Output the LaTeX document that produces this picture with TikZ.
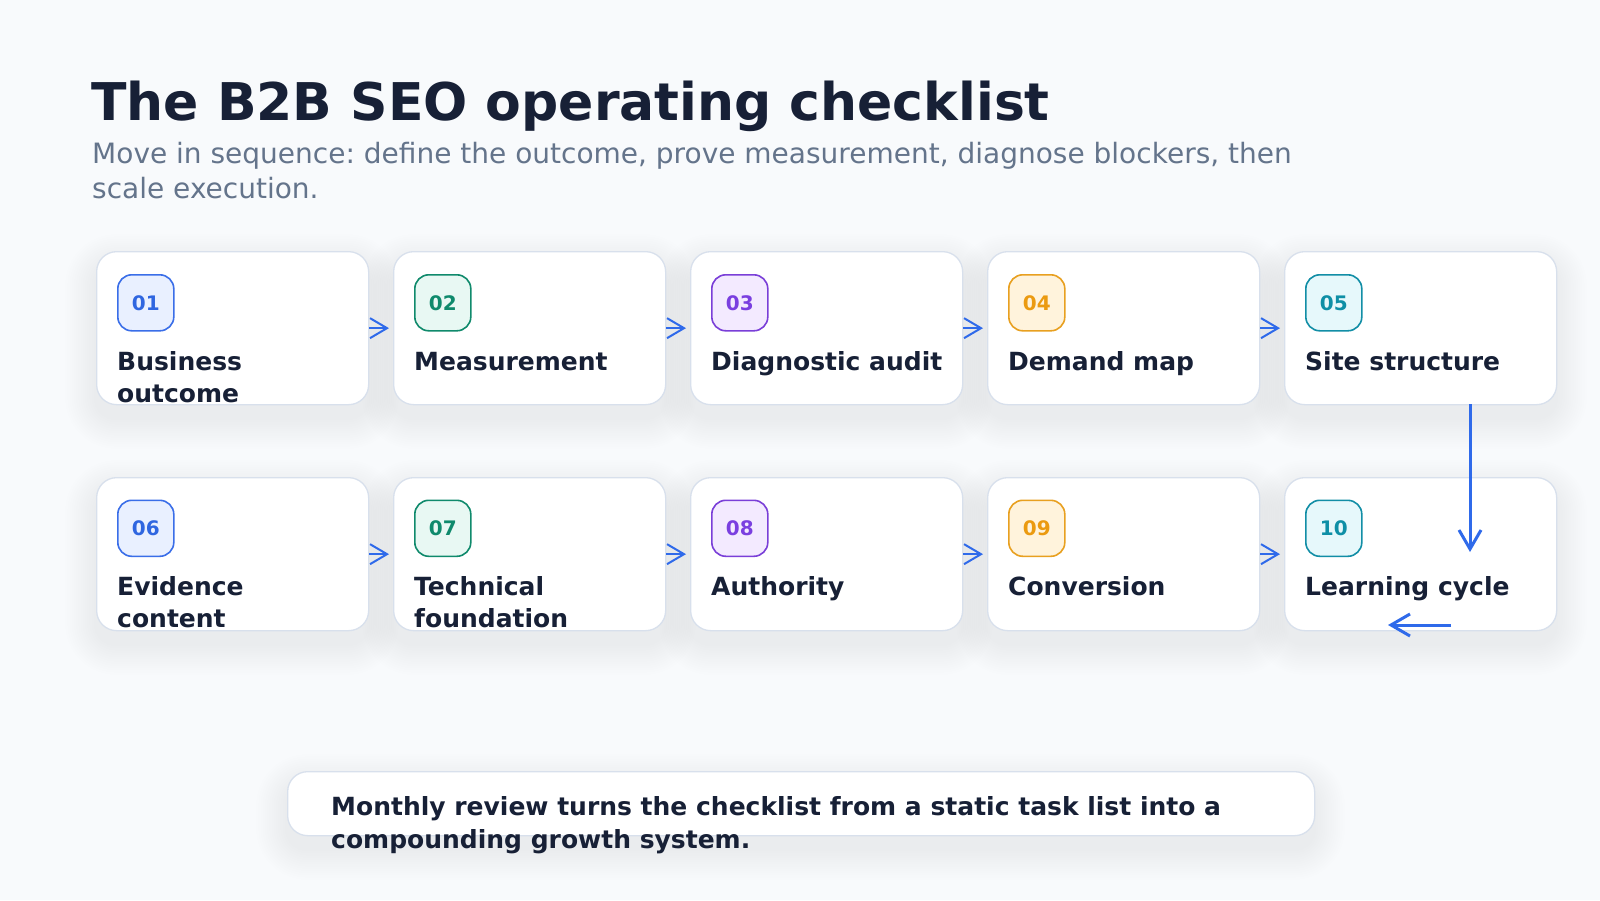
\documentclass[tikz,border=0pt]{standalone}
\usepackage{fontspec}
\setmainfont{DejaVu Sans}
\usetikzlibrary{arrows.meta}
\frenchspacing
\definecolor{bgc}{HTML}{F8FAFC}
\definecolor{titlec}{HTML}{172036}
\definecolor{subc}{HTML}{64748B}
\definecolor{cardb}{HTML}{D8E0EC}
\definecolor{shc}{HTML}{64748B}
\definecolor{arrc}{HTML}{2F6AEA}
\definecolor{bluB}{HTML}{3A6EE8}\definecolor{bluF}{HTML}{E9F0FF}\definecolor{bluT}{HTML}{2F66E0}
\definecolor{grnB}{HTML}{108A6C}\definecolor{grnF}{HTML}{E8F8F3}\definecolor{grnT}{HTML}{0F8A6C}
\definecolor{purB}{HTML}{7A3FD8}\definecolor{purF}{HTML}{F3EAFF}\definecolor{purT}{HTML}{7A3FE0}
\definecolor{ambB}{HTML}{E8A020}\definecolor{ambF}{HTML}{FFF3DC}\definecolor{ambT}{HTML}{EB9A10}
\definecolor{cyaB}{HTML}{128EA6}\definecolor{cyaF}{HTML}{E6F8FB}\definecolor{cyaT}{HTML}{0E8FA6}
\newcommand\softshadow[4]{%
  \foreach \i in {1,...,14}{%
    \pgfmathsetmacro\ee{\i*2.2}%
    \pgfmathsetmacro\rr{20+\ee}%
    \fill[shc,opacity=0.0055,rounded corners=\rr pt] ({#1-\ee},{#2+14-\ee}) rectangle ({#3+\ee},{#4+14+\ee});
  }}
\begin{document}
\begin{tikzpicture}[x=1pt,y=-1pt,
  card/.style={draw=cardb,line width=1.3pt,fill=white,rounded corners=20pt,minimum width=272pt,minimum height=153pt,anchor=north west,inner sep=0pt},
  badge/.style={line width=1.6pt,rounded corners=14pt,minimum width=56pt,minimum height=56pt,anchor=north west,inner sep=0pt,font=\fontsize{20}{24}\selectfont\bfseries},
  ctitle/.style={anchor=base west,align=left,inner sep=0pt,text=titlec,font=\fontsize{25}{32.6}\selectfont\bfseries},
  arr/.style={draw=arrc,line width=2pt,-{Straight Barb[length=17pt,width=20pt,line width=2pt]},shorten >=4pt},
  bigarr/.style={draw=arrc,line width=3pt,-{Straight Barb[length=19pt,width=22pt,line width=3pt]}}]
\useasboundingbox (0,0) rectangle (1600,900);
\fill[bgc] (0,0) rectangle (1600,900);
\node[anchor=base west,inner sep=0pt,text=titlec,font=\fontsize{52}{60}\selectfont\bfseries] (title) at (91,120) {The B2B SEO operating checklist};
% subtitle: base anchor = last line baseline
\node[anchor=base west,inner sep=0pt,align=left,text=subc,font=\fontsize{28}{35.5}\selectfont] (sub) at (92,198.5) {Move in sequence: define the outcome, prove measurement, diagnose blockers, then\\scale execution.};
% shadows
\foreach \cx in {96,393,690,987,1284}{
  \softshadow{\cx}{251}{\cx+272}{404}
  \softshadow{\cx}{477}{\cx+272}{630}
}
\softshadow{287}{771}{1314}{835}
% cards
\node[card] (c1) at (96,251) {};
\node[card] (c2) at (393,251) {};
\node[card] (c3) at (690,251) {};
\node[card] (c4) at (987,251) {};
\node[card] (c5) at (1284,251) {};
\node[card] (c6) at (96,477) {};
\node[card] (c7) at (393,477) {};
\node[card] (c8) at (690,477) {};
\node[card] (c9) at (987,477) {};
\node[card] (c10) at (1284,477) {};
% badges
\node[badge,draw=bluB,fill=bluF,text=bluT] (b1) at (117,274) {01};
\node[badge,draw=grnB,fill=grnF,text=grnT] (b2) at (414,274) {02};
\node[badge,draw=purB,fill=purF,text=purT] (b3) at (711,274) {03};
\node[badge,draw=ambB,fill=ambF,text=ambT] (b4) at (1008,274) {04};
\node[badge,draw=cyaB,fill=cyaF,text=cyaT] (b5) at (1305,274) {05};
\node[badge,draw=bluB,fill=bluF,text=bluT] (b6) at (117,499.5) {06};
\node[badge,draw=grnB,fill=grnF,text=grnT] (b7) at (414,499.5) {07};
\node[badge,draw=purB,fill=purF,text=purT] (b8) at (711,499.5) {08};
\node[badge,draw=ambB,fill=ambF,text=ambT] (b9) at (1008,499.5) {09};
\node[badge,draw=cyaB,fill=cyaF,text=cyaT] (b10) at (1305,499.5) {10};
% titles (two-line ones anchored at last baseline)
\node[ctitle] (t1) at (117,402.6) {Business\\outcome};
\node[ctitle] (t2) at (414,370) {Measurement};
\node[ctitle] (t3) at (711,370) {Diagnostic audit};
\node[ctitle] (t4) at (1008,370) {Demand map};
\node[ctitle] (t5) at (1305,370) {Site structure};
\node[ctitle] (t6) at (117,627.6) {Evidence\\content};
\node[ctitle] (t7) at (414,627.6) {Technical\\foundation};
\node[ctitle] (t8) at (711,595) {Authority};
\node[ctitle] (t9) at (1008,595) {Conversion};
\node[ctitle] (t10) at (1305,595) {Learning cycle};
% arrows
\draw[arr] (c1.east) -- (c2.west);
\draw[arr] (c2.east) -- (c3.west);
\draw[arr] (c3.east) -- (c4.west);
\draw[arr] (c4.east) -- (c5.west);
\draw[arr] (c6.east) -- (c7.west);
\draw[arr] (c7.east) -- (c8.west);
\draw[arr] (c8.east) -- (c9.west);
\draw[arr] (c9.east) -- (c10.west);
\coordinate (vs) at (1470,404);
\coordinate (ve) at (1470,552);
\draw[bigarr] (vs) -- (ve);
\coordinate (hs) at (1451,625);
\coordinate (he) at (1388,625);
\draw[bigarr] (hs) -- (he);
% bottom note
\node[draw=cardb,line width=1.3pt,fill=white,rounded corners=20pt,minimum width=1027pt,minimum height=64pt,anchor=north west,inner sep=0pt] (note) at (287,771) {};
\node[anchor=base west,inner sep=0pt,align=left,text=titlec,font=\fontsize{25}{33}\selectfont\bfseries] (notet) at (331,848) {Monthly review turns the checklist from a static task list into a\\compounding growth system.};
\end{tikzpicture}
\end{document}
